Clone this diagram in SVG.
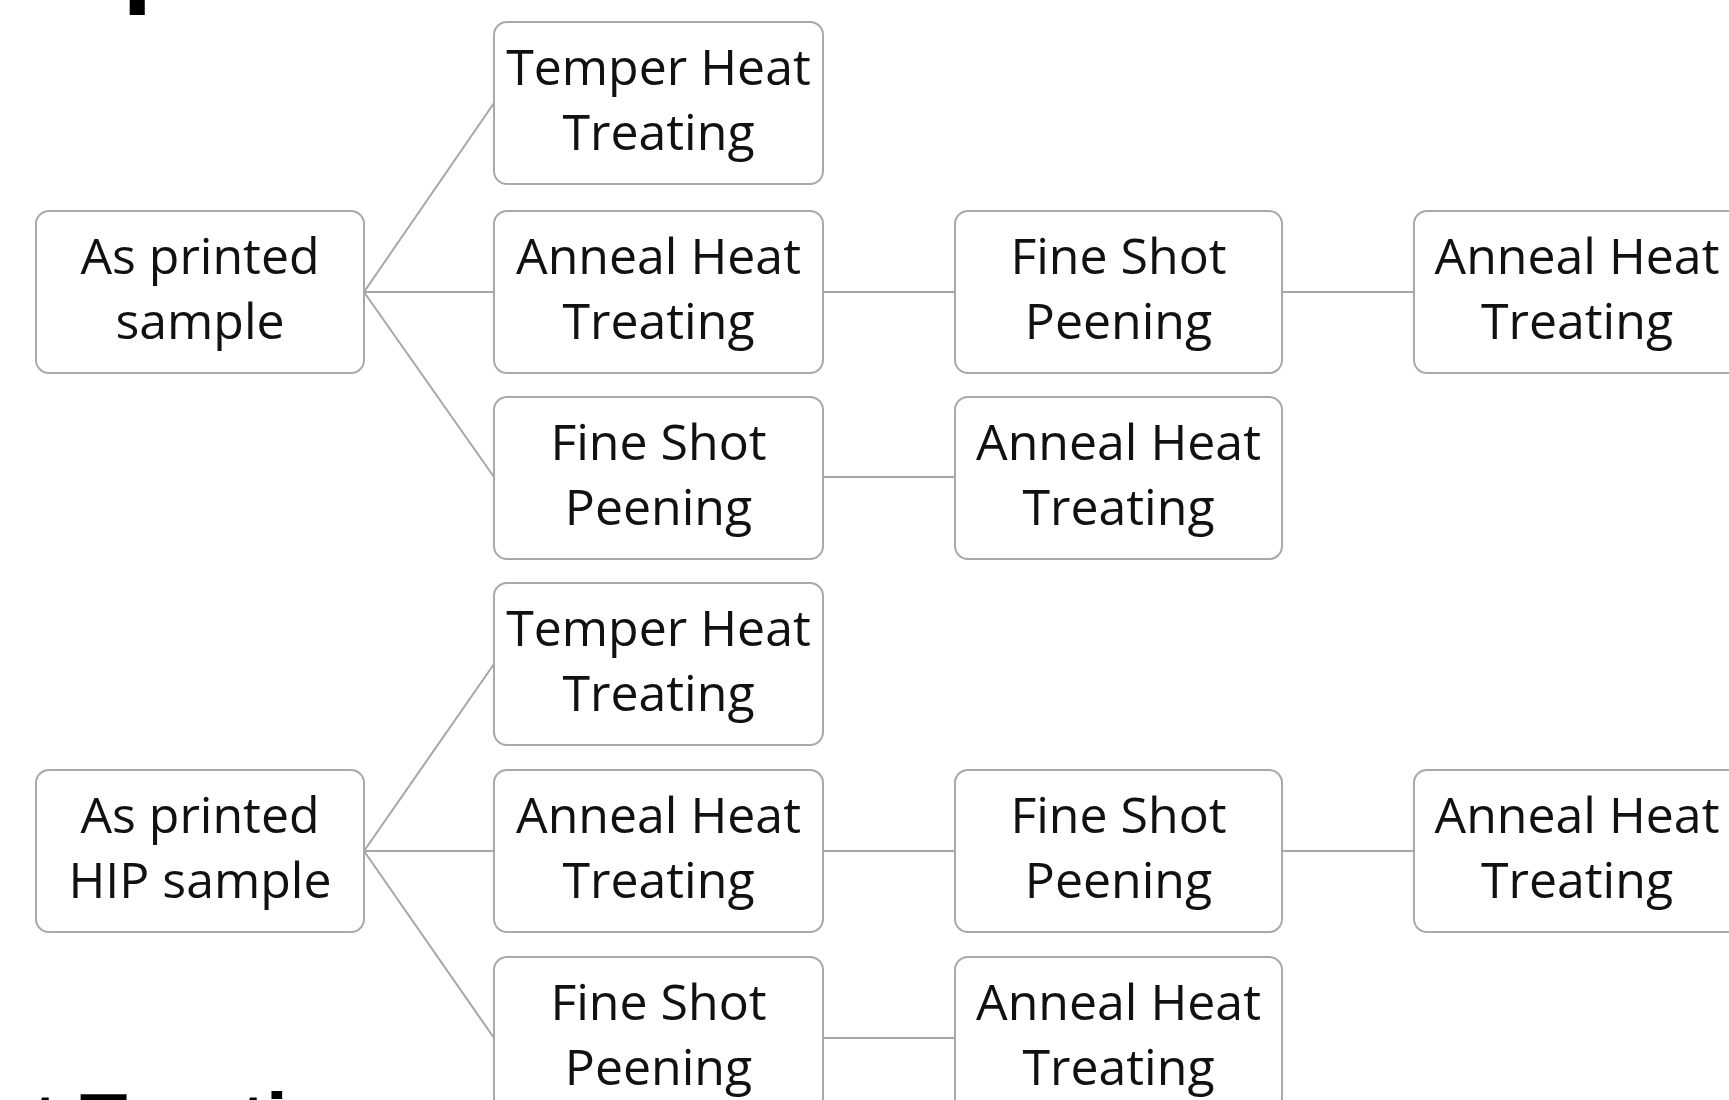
<svg xmlns="http://www.w3.org/2000/svg" width="1729" height="1100" viewBox="0 0 1729 1100">
<style>
.box{fill:#fff;stroke:#a9a9a9;stroke-width:2}
.lbl{font-family:"Open Sans","Lato","DejaVu Sans",sans-serif;font-size:50px;fill:#111;text-anchor:middle}
.con{stroke:#a6a6a6;stroke-width:2;fill:none}
.head{font-family:"Liberation Sans",Arial,sans-serif;font-weight:bold;fill:#000}
</style>
<rect width="1729" height="1100" fill="#fff"/>
<text class="head" x="122" y="-8" font-size="110">p</text>
<text class="head" x="32" y="1148" font-size="78">t Treati</text>
<g id="connectors">
<line class="con" x1="364" y1="292" x2="494" y2="103"/>
<line class="con" x1="364" y1="292" x2="494" y2="292"/>
<line class="con" x1="364" y1="292" x2="494" y2="477"/>
<line class="con" x1="823" y1="292" x2="955" y2="292"/>
<line class="con" x1="1282" y1="292" x2="1414" y2="292"/>
<line class="con" x1="823" y1="477" x2="955" y2="477"/>
<line class="con" x1="364" y1="851" x2="494" y2="664"/>
<line class="con" x1="364" y1="851" x2="494" y2="851"/>
<line class="con" x1="364" y1="851" x2="494" y2="1038"/>
<line class="con" x1="823" y1="851" x2="955" y2="851"/>
<line class="con" x1="1282" y1="851" x2="1414" y2="851"/>
<line class="con" x1="823" y1="1038" x2="955" y2="1038"/>
</g>
<g id="n_as_printed"><rect class="box" x="36" y="211" width="328" height="162" rx="13"/><text class="lbl" x="200" y="274">As printed</text><text class="lbl" x="200" y="339">sample</text></g>
<g id="n_temper1"><rect class="box" x="494" y="22" width="329" height="162" rx="13"/><text class="lbl" x="658.5" y="85">Temper Heat</text><text class="lbl" x="658.5" y="150">Treating</text></g>
<g id="n_anneal1"><rect class="box" x="494" y="211" width="329" height="162" rx="13"/><text class="lbl" x="658.5" y="274">Anneal Heat</text><text class="lbl" x="658.5" y="339">Treating</text></g>
<g id="n_peen1"><rect class="box" x="494" y="397" width="329" height="162" rx="13"/><text class="lbl" x="658.5" y="460">Fine Shot</text><text class="lbl" x="658.5" y="525">Peening</text></g>
<g id="n_peen2"><rect class="box" x="955" y="211" width="327" height="162" rx="13"/><text class="lbl" x="1118.5" y="274">Fine Shot</text><text class="lbl" x="1118.5" y="339">Peening</text></g>
<g id="n_anneal2"><rect class="box" x="955" y="397" width="327" height="162" rx="13"/><text class="lbl" x="1118.5" y="460">Anneal Heat</text><text class="lbl" x="1118.5" y="525">Treating</text></g>
<g id="n_anneal3"><rect class="box" x="1414" y="211" width="329" height="162" rx="13"/><text class="lbl" x="1577" y="274">Anneal Heat</text><text class="lbl" x="1577" y="339">Treating</text></g>
<g id="n_as_printed_hip"><rect class="box" x="36" y="770" width="328" height="162" rx="13"/><text class="lbl" x="200" y="833">As printed</text><text class="lbl" x="200" y="898">HIP sample</text></g>
<g id="n_temper4"><rect class="box" x="494" y="583" width="329" height="162" rx="13"/><text class="lbl" x="658.5" y="646">Temper Heat</text><text class="lbl" x="658.5" y="711">Treating</text></g>
<g id="n_anneal4"><rect class="box" x="494" y="770" width="329" height="162" rx="13"/><text class="lbl" x="658.5" y="833">Anneal Heat</text><text class="lbl" x="658.5" y="898">Treating</text></g>
<g id="n_peen4"><rect class="box" x="494" y="957" width="329" height="162" rx="13"/><text class="lbl" x="658.5" y="1020">Fine Shot</text><text class="lbl" x="658.5" y="1085">Peening</text></g>
<g id="n_peen5"><rect class="box" x="955" y="770" width="327" height="162" rx="13"/><text class="lbl" x="1118.5" y="833">Fine Shot</text><text class="lbl" x="1118.5" y="898">Peening</text></g>
<g id="n_anneal5"><rect class="box" x="955" y="957" width="327" height="162" rx="13"/><text class="lbl" x="1118.5" y="1020">Anneal Heat</text><text class="lbl" x="1118.5" y="1085">Treating</text></g>
<g id="n_anneal6"><rect class="box" x="1414" y="770" width="329" height="162" rx="13"/><text class="lbl" x="1577" y="833">Anneal Heat</text><text class="lbl" x="1577" y="898">Treating</text></g>
</svg>
